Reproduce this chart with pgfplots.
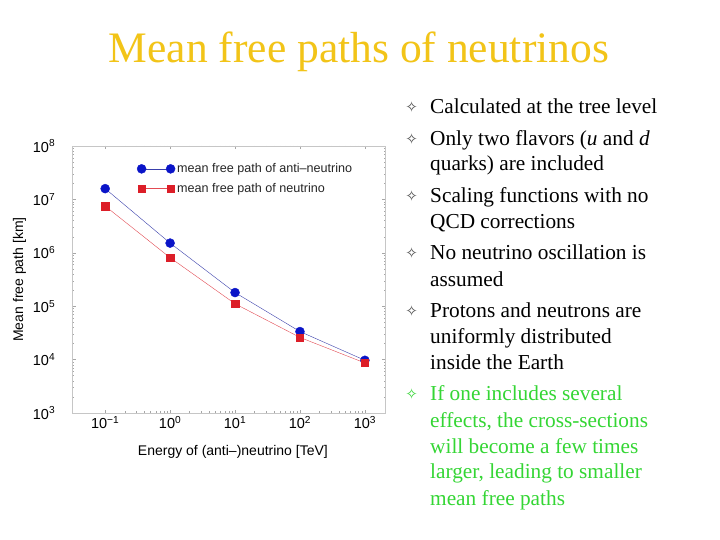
\documentclass[border=0pt]{standalone}
\usepackage{fontspec}
\setmainfont{Liberation Serif}
\newfontfamily\chartsans{Liberation Sans}
\newfontfamily\symfont{DejaVu Sans}
\usepackage{xcolor}
\usepackage{pgfplots}
\pgfplotsset{compat=1.18}

\definecolor{titlegold}{RGB}{242,196,24}
\definecolor{notegreen}{RGB}{52,214,52}
\definecolor{mfpblue}{RGB}{10,20,200}
\definecolor{mfpred}{RGB}{220,30,40}

% slide text helpers
\newcommand\slidefont{\fontsize{21.3}{24}\selectfont}
\newcommand\bul[2]{\node[anchor=center,text=#2] at (411.7,#1+6) {\symfont\fontsize{15}{15}\selectfont ✧};}
\newcommand\tline[3]{\node[anchor=base west,inner sep=0pt,text=#2] at (430,#1) {\slidefont #3};}

\begin{document}
\begin{tikzpicture}[x=1pt,y=1pt]
\fill[white] (0,0) rectangle (720,540);
\useasboundingbox (0,0) rectangle (720,540);

\node[anchor=base,inner sep=0pt,text=titlegold] at (359,477)
  {\fontsize{43.5}{43.5}\selectfont Mean free paths of neutrinos};

\begin{axis}[
    at={(72.7pt,127pt)}, anchor=south west,
    scale only axis, width=312.3pt, height=267pt,
    xmode=log, ymode=log,
    xmin=0.0316, xmax=2040,
    ymin=1e3, ymax=1e8,
    axis line style={gray!45},
    tick style={gray!70, line width=0.4pt},
    major tick length=3pt, minor tick length=1.5pt,
    tick align=inside,
    xtick={0.1,1,10,100,1000},
    xticklabels={10\textsuperscript{−1},10\textsuperscript{0},10\textsuperscript{1},10\textsuperscript{2},10\textsuperscript{3}},
    ytick={1e3,1e4,1e5,1e6,1e7,1e8},
    yticklabels={10\textsuperscript{3},10\textsuperscript{4},10\textsuperscript{5},10\textsuperscript{6},10\textsuperscript{7},10\textsuperscript{8}},
    tick label style={font=\chartsans\fontsize{14.5}{14.5}\selectfont},
    yticklabel style={xshift=-14pt},
    xlabel={Energy of (anti–)neutrino [TeV]},
    ylabel={Mean free path [km]},
    label style={font=\chartsans\fontsize{14}{14}\selectfont},
    xlabel style={at={(axis description cs:0.513,-0.146)}, anchor=center},
    ylabel style={at={(axis description cs:-0.170,0.5)}, anchor=center},
    legend style={at={(axis description cs:0.196,0.95)}, anchor=north west,
        draw=none, fill=none, font=\chartsans\fontsize{12.6}{12.6}\selectfont,
        row sep=5pt, text=black!85},
    legend cell align=left,
    legend image code/.code={\draw[#1] plot coordinates {(0pt,0pt) (29pt,0pt)};},
]
\addplot[color=mfpblue!60!gray, line width=0.4pt, mark=*, mark size=4.5pt,
    mark options={fill=mfpblue, draw=mfpblue}] coordinates {
    (0.1,1.59e7) (1,1.52e6) (10,1.8e5) (100,3.35e4) (1000,9.7e3)
};
\addplot[color=mfpred!80, line width=0.4pt, mark=square*, mark size=3.7pt,
    mark options={fill=mfpred, draw=mfpred}] coordinates {
    (0.1,7.5e6) (1,8.1e5) (10,1.11e5) (100,2.6e4) (1000,8.65e3)
};
\legend{mean free path of anti–neutrino, mean free path of neutrino}
\end{axis}

% bullet list on the right
\bul{426.5}{black!70}
\tline{426.5}{black}{Calculated at the tree level}
\bul{394.5}{black!70}
\tline{394.5}{black}{Only two flavors (\textit{u} and \textit{d}}
\tline{369.5}{black}{quarks) are included}
\bul{337.5}{black!70}
\tline{337.5}{black}{Scaling functions with no}
\tline{311.5}{black}{QCD corrections}
\bul{280.5}{black!70}
\tline{280.5}{black}{No neutrino oscillation is}
\tline{253.5}{black}{assumed}
\bul{222.5}{black!70}
\tline{222.5}{black}{Protons and neutrons are}
\tline{196.5}{black}{uniformly distributed}
\tline{170.5}{black}{inside the Earth}
\bul{139.5}{notegreen}
\tline{139.5}{notegreen}{If one includes several}
\tline{112.5}{notegreen}{effects, the cross-sections}
\tline{86.5}{notegreen}{will become a few times}
\tline{61.5}{notegreen}{larger, leading to smaller}
\tline{34.5}{notegreen}{mean free paths}
\end{tikzpicture}
\end{document}
